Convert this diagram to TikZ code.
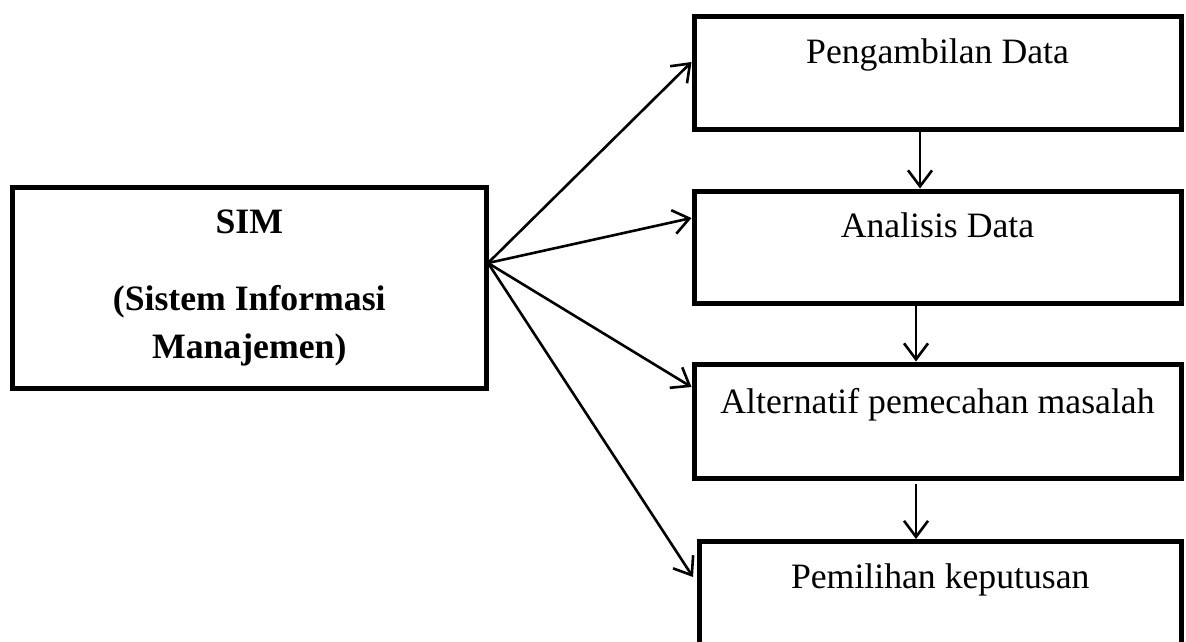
\documentclass[tikz,border=0pt]{standalone}
\usepackage{fontspec}
\setmainfont{Liberation Serif}
\usetikzlibrary{arrows.meta}
\begin{document}
\begin{tikzpicture}[x=1pt,y=-1pt,
  box/.style={draw, line width=5pt, inner sep=0pt, minimum width=487pt, font=\fontsize{35.7}{42}\selectfont},
  conn/.style={line width=2.6pt, -{Straight Barb[length=16pt,width=24pt]}},
]
\useasboundingbox (0,0) rectangle (1186,641);
\clip (0,0) rectangle (1186,641);
\node[box, minimum width=473.5pt, minimum height=200.5pt, align=center,
      font=\bfseries\fontsize{35.7}{48}\selectfont] (sim) at (249.25,287.75)
      {SIM\\[29pt](Sistem Informasi\\Manajemen)};
\node[box, minimum height=113pt, text height=46.5pt, text depth=66.5pt] (b1) at (937.5,73) {Pengambilan Data};
\node[box, minimum height=112.5pt, text height=46pt, text depth=66.5pt] (b2) at (937.5,247.25) {Analisis Data};
\node[box, minimum height=114pt, text height=49pt, text depth=65pt] (b3) at (937.5,421) {Alternatif pemecahan masalah};
\node[box, minimum width=481.5pt, minimum height=113.5pt, text height=46.5pt, text depth=67pt] (b4) at (940.25,598.25) {Pemilihan keputusan};
\coordinate (src) at (488,263);
\draw[conn] (src) -- ([yshift=-48pt]b1.north west);
\draw[conn] (src) -- ([yshift=-29.5pt]b2.north west);
\draw[conn] (src) -- ([yshift=-25.5pt]b3.north west);
\draw[conn] (src) -- ([xshift=-4pt,yshift=-38pt]b4.north west);
\draw[conn] ([xshift=-17.5pt]b1.south) -- ([xshift=-17.5pt]b2.north);
\draw[conn] ([xshift=-21.5pt]b2.south) -- ([xshift=-21.5pt]b3.north);
\draw[conn] ([xshift=-21.5pt,yshift=-3pt]b3.south) -- ([xshift=-24.25pt]b4.north);
\end{tikzpicture}
\end{document}
